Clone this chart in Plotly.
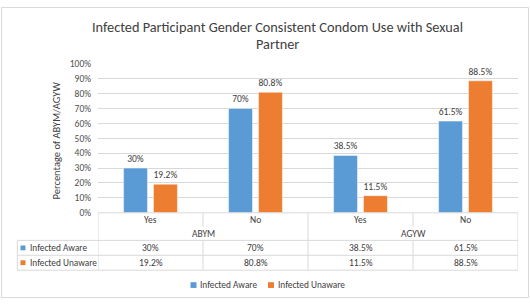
import plotly.graph_objects as go

# ---- data ----
answers = ["Yes", "No", "Yes", "No"]
groups = ["ABYM", "AGYW"]
series_names = ["Infected Aware", "Infected Unaware"]
aware = [30, 70, 38.5, 61.5]
unaware = [19.2, 80.8, 11.5, 88.5]
y_ticks = [0, 10, 20, 30, 40, 50, 60, 70, 80, 90, 100]
y_tick_labels = [f"{t}%" for t in y_ticks]

title_lines = ["Infected Participant Gender Consistent Condom Use with Sexual", "Partner"]
y_title = "Percentage of ABYM/AGYW"

colors = ["#5B9BD5", "#ED7D31"]
W, H = 530, 305
FONT = "Carlito, Calibri, Lato, sans-serif"
TXT = "#404040"
GRID = "#D9D9D9"


def fx(p):
    return p / W


def fy(p):
    return 1 - p / H


def pct(v):
    return f"{v:g}%"


xs = list(range(len(answers)))
series = [aware, unaware]

fig = go.Figure()
for name, vals, col in zip(series_names, series, colors):
    fig.add_trace(go.Bar(
        x=xs, y=vals, name=name,
        marker=dict(color=col, line=dict(color="rgba(255,255,255,0.6)", width=0.8)),
        text=[pct(v) for v in vals], textposition="outside",
        textfont=dict(family=FONT, size=9.5, color=TXT),
        cliponaxis=False, showlegend=False,
    ))

shapes = []
ann = []


def label(x, y, text, xref="paper", size=9.5, xanchor="center", **kw):
    ann.append(dict(x=x, y=y, xref=xref, yref="paper", text=text, showarrow=False,
                    xanchor=xanchor, yanchor="middle",
                    font=dict(family=FONT, size=size, color=TXT), **kw))


def hline(x0, x1, y, xref="paper"):
    shapes.append(dict(type="line", xref=xref, yref="paper", x0=x0, x1=x1,
                       y0=fy(y), y1=fy(y), line=dict(color=GRID, width=1)))


def vline(x, y0, y1, xref="x"):
    shapes.append(dict(type="line", xref=xref, yref="paper", x0=x, x1=x,
                       y0=fy(y0), y1=fy(y1), line=dict(color=GRID, width=1)))


# outer chart border
shapes.append(dict(type="rect", xref="paper", yref="paper", x0=fx(1.5), x1=fx(528.5),
                   y0=fy(303.5), y1=fy(1.5), line=dict(color=GRID, width=1)))

n = len(answers)
# data table lines
hline(-0.5, n - 0.5, 215.3, xref="x")
for yy in (244, 259.5, 275):
    hline(fx(17.3), fx(518), yy)
vline(-0.5, 215.3, 275)
vline(n - 0.5, 215.3, 275)
ng = len(groups)
per = n // ng
for g in range(1, ng):
    vline(g * per - 0.5, 215.3, 275)
for i in range(n - 1):
    if (i + 1) % per != 0:
        vline(i + 0.5, 215.3, 230)
        vline(i + 0.5, 244, 275)
vline(fx(17.3), 244, 275, xref="paper")

# category row & group row
for i, a in enumerate(answers):
    label(i, fy(222.5), a, xref="x")
for g, gname in enumerate(groups):
    label(g * per + (per - 1) / 2, fy(237.3), gname, xref="x")

# series rows
row_y = [251.8, 267.2]
for r, (name, vals, col) in enumerate(zip(series_names, series, colors)):
    yy = row_y[r]
    shapes.append(dict(type="rect", xref="paper", yref="paper", x0=fx(20.5), x1=fx(25.5),
                       y0=fy(yy + 2.5), y1=fy(yy - 2.5), fillcolor=col, line=dict(width=0)))
    label(fx(28.3), fy(yy), name, size=9.3, xanchor="left")
    for i, v in enumerate(vals):
        label(i, fy(yy), pct(v), xref="x")

# bottom legend
leg_x = [193.5, 271]
for name, col, lx in zip(series_names, colors, leg_x):
    shapes.append(dict(type="rect", xref="paper", yref="paper", x0=fx(lx - 3), x1=fx(lx + 3),
                       y0=fy(290.5 + 3), y1=fy(290.5 - 3), fillcolor=col, line=dict(width=0)))
    label(fx(lx + 5), fy(290), name, size=9.3, xanchor="left")

# title & axis title
for line, ty in zip(title_lines, [21.5, 40]):
    label(fx(277), fy(ty), line, size=14.3)
label(fx(56), fy(140), y_title, size=10.5, textangle=-90)

fig.update_layout(
    width=W, height=H, margin=dict(l=0, r=0, t=0, b=0),
    paper_bgcolor="white", plot_bgcolor="white",
    barmode="group", bargap=0.43, bargroupgap=0.2,
    shapes=shapes, annotations=ann,
    xaxis=dict(domain=[fx(98), fx(518)], range=[-0.5, n - 0.5], showgrid=False,
               showticklabels=False, zeroline=False, showline=False, ticks=""),
    yaxis=dict(domain=[fy(215.3), fy(60)], range=[0, 100], tickmode="array",
               tickvals=y_ticks, ticktext=y_tick_labels,
               showgrid=True, gridcolor=GRID, gridwidth=1,
               zeroline=False, showline=False, ticks="", ticklabelstandoff=6,
               tickfont=dict(family=FONT, size=9.5, color="#505050")),
    showlegend=False,
)

fig.write_html(
    "out.html",
    config={"displayModeBar": False},
    post_script="document.body.style.margin='0px';document.body.style.overflow='hidden';"
                "document.documentElement.style.overflow='hidden';",
)
